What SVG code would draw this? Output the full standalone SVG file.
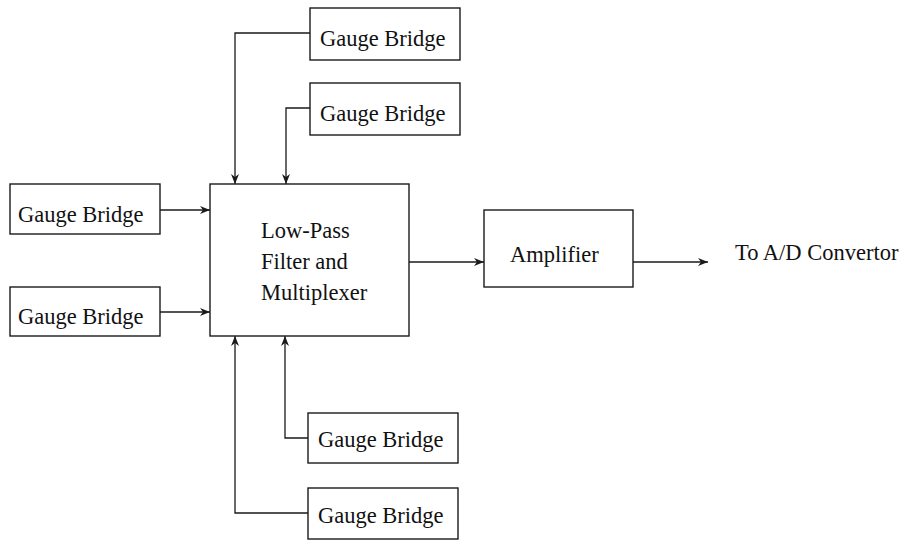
<svg xmlns="http://www.w3.org/2000/svg" width="907" height="542" viewBox="0 0 907 542">
<style>
.box{fill:#fff;stroke:#1a1a1a;stroke-width:1.4}
.t{font-family:"Liberation Serif","Times New Roman",serif;font-size:22.5px;fill:#111}
.c{fill:none;stroke:#1a1a1a;stroke-width:1.3}
</style>
<defs>
<marker id="ah" viewBox="0 0 10 8" refX="10" refY="4" markerWidth="10" markerHeight="8" markerUnits="userSpaceOnUse" orient="auto">
<path d="M0,0 L10,4 L0,8 L3,4 z" fill="#1a1a1a"/>
</marker>
</defs>
<rect width="907" height="542" fill="#fff"/>
<g id="connectors">
<path class="c" d="M310,33 H235 V184" marker-end="url(#ah)"/>
<path class="c" d="M310,108 H286 V184" marker-end="url(#ah)"/>
<path class="c" d="M160,210 H210" marker-end="url(#ah)"/>
<path class="c" d="M160,312 H210" marker-end="url(#ah)"/>
<path class="c" d="M308,438 H285 V336" marker-end="url(#ah)"/>
<path class="c" d="M308,513 H235 V336" marker-end="url(#ah)"/>
<path class="c" d="M409,262 H484" marker-end="url(#ah)"/>
<path class="c" d="M633,262 H708" marker-end="url(#ah)"/>
</g>
<g id="gb_top1"><rect class="box" x="310" y="8" width="150" height="52"/><text class="t" x="320" y="46">Gauge Bridge</text></g>
<g id="gb_top2"><rect class="box" x="310" y="83" width="150" height="52"/><text class="t" x="320" y="121">Gauge Bridge</text></g>
<g id="gb_left1"><rect class="box" x="10" y="184" width="150" height="50"/><text class="t" x="18" y="222">Gauge Bridge</text></g>
<g id="gb_left2"><rect class="box" x="10" y="287" width="150" height="49"/><text class="t" x="18" y="324">Gauge Bridge</text></g>
<g id="lpf"><rect class="box" x="210" y="184" width="199" height="152"/>
<text class="t" x="261" y="238">Low-Pass</text>
<text class="t" x="261" y="269">Filter and</text>
<text class="t" x="261" y="300">Multiplexer</text></g>
<g id="amp"><rect class="box" x="484" y="210" width="149" height="77"/><text class="t" x="510" y="262">Amplifier</text></g>
<g id="gb_bot1"><rect class="box" x="308" y="413" width="150" height="50"/><text class="t" x="318" y="447">Gauge Bridge</text></g>
<g id="gb_bot2"><rect class="box" x="308" y="488" width="150" height="51"/><text class="t" x="318" y="523">Gauge Bridge</text></g>
<g id="out"><text class="t" x="735" y="260">To A/D Convertor</text></g>
</svg>
